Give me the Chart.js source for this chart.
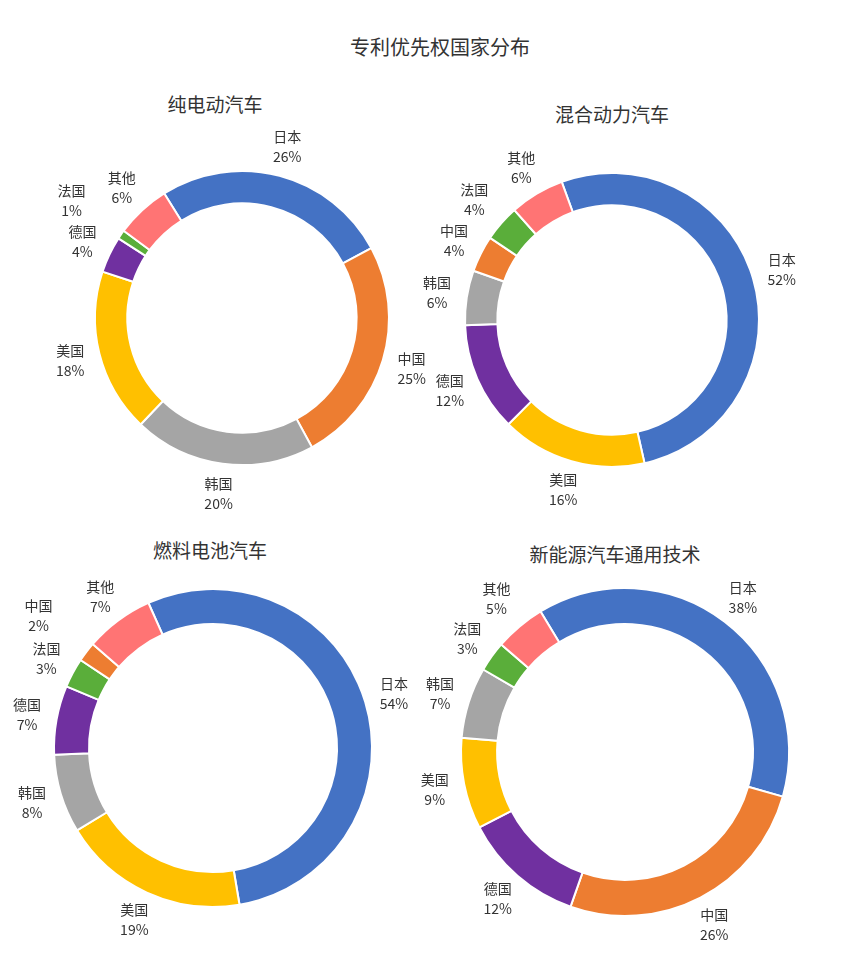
<!DOCTYPE html>
<html><head><meta charset="utf-8">
<script src="https://cdn.jsdelivr.net/npm/chart.js@4"></script>
<style>
body{margin:0;width:852px;height:965px;background:#fff;position:relative;font-family:"Noto Sans CJK SC",sans-serif;color:#333}
.t{position:absolute;font-size:19px;transform:translateX(-50%);white-space:nowrap}
.c{position:absolute}
</style></head><body>
<div class="t" style="left:440px;top:32px;font-size:20px">专利优先权国家分布</div>
<div class="t" style="left:215px;top:90px">纯电动汽车</div>
<div class="t" style="left:612px;top:100px">混合动力汽车</div>
<div class="t" style="left:210px;top:536px">燃料电池汽车</div>
<div class="t" style="left:615px;top:540px">新能源汽车通用技术</div>
<script>
// colours per country
const colorOf = {'日本':'#4472C4','中国':'#ED7D31','韩国':'#A5A5A5','美国':'#FFC000','德国':'#7030A0','法国':'#5AAE3A','其他':'#FF7474'};

const evLabels = ['日本','中国','韩国','美国','德国','法国','其他'];
const evValues = [26,25,20,18,4,1,6];
const hybridLabels = ['日本','美国','德国','韩国','中国','法国','其他'];
const hybridValues = [52,16,12,6,4,4,6];
const fuelLabels = ['日本','美国','韩国','德国','法国','中国','其他'];
const fuelValues = [54,19,8,7,3,2,7];
const generalLabels = ['日本','中国','德国','美国','韩国','法国','其他'];
const generalValues = [38,26,12,9,7,3,5];

// draw name + percent outside each slice, pushing outward when labels collide
const outerLabels = {
  id: 'outerLabels',
  afterDraw(chart) {
    const ctx = chart.ctx;
    const meta = chart.getDatasetMeta(0);
    ctx.save();
    ctx.fillStyle = '#333';
    ctx.font = '14px "Noto Sans CJK SC"';
    ctx.textAlign = 'center';
    ctx.textBaseline = 'middle';
    const placed = [];
    meta.data.forEach((arc, i) => {
      const mid = (arc.startAngle + arc.endAngle) / 2;
      let r = arc.outerRadius + 30;
      let x, y;
      for (let k = 0; k < 20; k++) {
        x = arc.x + Math.cos(mid) * r;
        y = arc.y + Math.sin(mid) * r;
        const hit = placed.some(p => Math.abs(p.x - x) < 36 && Math.abs(p.y - y) < 40);
        if (!hit) break;
        r += 6;
      }
      placed.push({x, y});
      ctx.fillText(chart.data.labels[i], x, y - 10);
      ctx.fillText(chart.data.datasets[0].data[i] + '%', x, y + 10);
    });
    ctx.restore();
  }
};

function makeDonut(labels, values, cx, cy, r, rotation) {
  const pad = 60;
  const size = 2 * (r + pad);
  const canvas = document.createElement('canvas');
  canvas.className = 'c';
  canvas.style.left = (cx - size / 2) + 'px';
  canvas.style.top = (cy - size / 2) + 'px';
  canvas.style.width = size + 'px';
  canvas.style.height = size + 'px';
  canvas.width = size; canvas.height = size;
  document.body.appendChild(canvas);
  new Chart(canvas.getContext('2d'), {
    type: 'doughnut',
    data: {
      labels: labels,
      datasets: [{
        data: values,
        backgroundColor: labels.map(l => colorOf[l]),
        borderColor: '#fff',
        borderWidth: 2
      }]
    },
    options: {
      responsive: false,
      animation: false,
      rotation: rotation,
      cutout: '78%',
      layout: { padding: pad },
      plugins: { legend: { display: false }, tooltip: { enabled: false } }
    },
    plugins: [outerLabels]
  });
}

makeDonut(evLabels, evValues, 242, 318, 148, -32);
makeDonut(hybridLabels, hybridValues, 612, 320, 148, -20);
makeDonut(fuelLabels, fuelValues, 213, 748, 160, -24);
makeDonut(generalLabels, generalValues, 625, 752, 165, -31);
</script>
</body></html>
